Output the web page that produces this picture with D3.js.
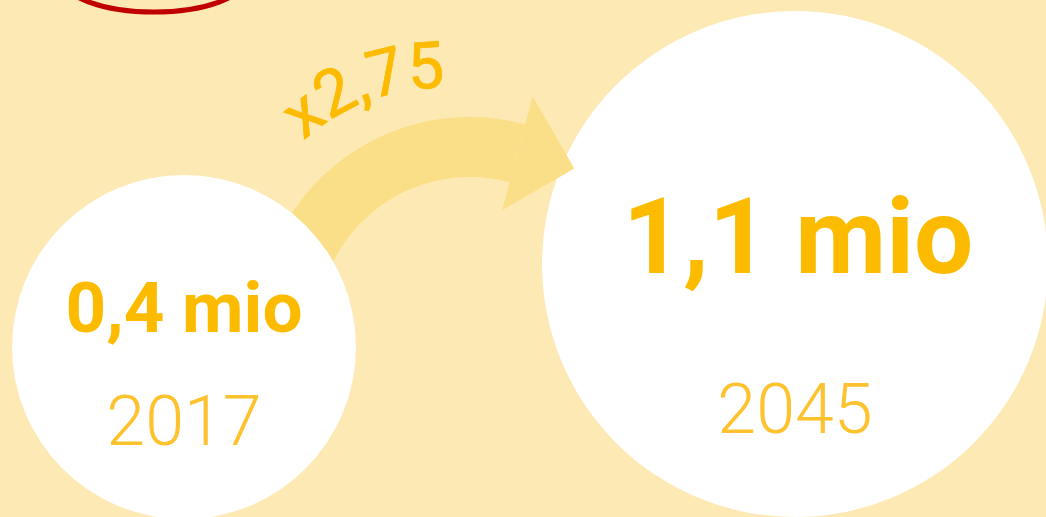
<!DOCTYPE html>
<html>
<head>
<meta charset="utf-8">
<script src="https://cdn.jsdelivr.net/npm/d3@7"></script>
<style>
  html, body { margin: 0; padding: 0; background: #fde9b3; overflow: hidden; }
  svg { display: block; font-family: Roboto, "Open Sans", sans-serif; }
</style>
</head>
<body>
<div id="chart"></div>
<script>
var years = ['2017', '2045'];
var values = [0.4, 1.1];
var valueLabels = ['0,4 mio', '1,1 mio'];
var factorLabel = 'x2,75';

var width = 1046, height = 517;
var amber = '#fdbb00';
var arrowColor = '#fbdf88';

var svg = d3.select('#chart').append('svg')
    .attr('width', width)
    .attr('height', height);

svg.append('rect')
    .attr('width', width)
    .attr('height', height)
    .attr('fill', '#fde9b3');

// radius from value
var rScale = d3.scaleLinear().domain([0.4, 1.1]).range([172, 253]);
var cx = d3.scalePoint().domain(years).range([184, 795]);
var cy = d3.scaleOrdinal().domain(years).range([347, 264]);
var labelSize = d3.scaleLinear().domain([0.4, 1.1]).range([71, 105]);

var bubbles = years.map(function(y, i) {
    return { year: y, value: values[i], label: valueLabels[i] };
});

var deg = Math.PI / 180;

// red ring cut by the top edge
svg.append('ellipse')
    .attr('cx', 154)
    .attr('cy', -22)
    .attr('rx', 92)
    .attr('ry', 34)
    .attr('fill', 'none')
    .attr('stroke', '#c00000')
    .attr('stroke-width', 5);

var drawBubble = function(d) {
    var g = svg.append('g')
        .attr('transform', 'translate(' + cx(d.year) + ',' + cy(d.year) + ')');
    g.append('circle')
        .attr('r', rScale(d.value))
        .attr('fill', '#ffffff');
    var big = d.value > 1;
    g.append('text')
        .attr('text-anchor', 'middle')
        .attr('x', big ? 3 : 0)
        .attr('y', big ? 9 : -15)
        .attr('fill', amber)
        .attr('font-weight', 700)
        .attr('font-size', labelSize(d.value))
        .text(d.label);
    g.append('text')
        .attr('text-anchor', 'middle')
        .attr('y', big ? 169 : 98)
        .attr('fill', '#fdc22e')
        .attr('font-weight', 300)
        .attr('font-size', 70)
        .text(d.year);
};

drawBubble(bubbles[1]);

// curved arrow between the two
var arrowCenter = [470, 330];
var inner = 153, outer = 213, endA = 15 * deg;
var arrow = svg.append('g')
    .attr('transform', 'translate(' + arrowCenter[0] + ',' + arrowCenter[1] + ')');
arrow.append('path')
    .attr('d', d3.arc()({ innerRadius: inner, outerRadius: outer, startAngle: -75 * deg, endAngle: endA }))
    .attr('fill', arrowColor);

var mid = (inner + outer) / 2;
var pt = function(r, a) { return [r * Math.sin(a), -r * Math.cos(a)]; };
var base = pt(mid, endA);
var tip = [base[0] + 59 * Math.cos(endA), base[1] + 59 * Math.sin(endA)];
arrow.append('path')
    .attr('d', d3.line()([pt(mid + 59, endA), tip, pt(mid - 59, endA)]) + 'Z')
    .attr('fill', arrowColor);

drawBubble(bubbles[0]);

// factor label along a curve
var labelR = 202;
var labelArc = d3.path();
labelArc.arc(440, 290, labelR, -170 * deg, -10 * deg);
svg.append('path')
    .attr('id', 'factorPath')
    .attr('d', labelArc.toString())
    .attr('fill', 'none');

svg.append('text')
    .attr('fill', amber)
    .attr('font-size', 65)
    .attr('font-weight', 400)
    .attr('stroke', amber)
    .attr('stroke-width', 0.8)
    .append('textPath')
    .attr('href', '#factorPath')
    .attr('text-anchor', 'middle')
    .attr('startOffset', ((90 - 20.5 - 10) * deg * labelR) + 'px')
    .text(factorLabel);
</script>
</body>
</html>
